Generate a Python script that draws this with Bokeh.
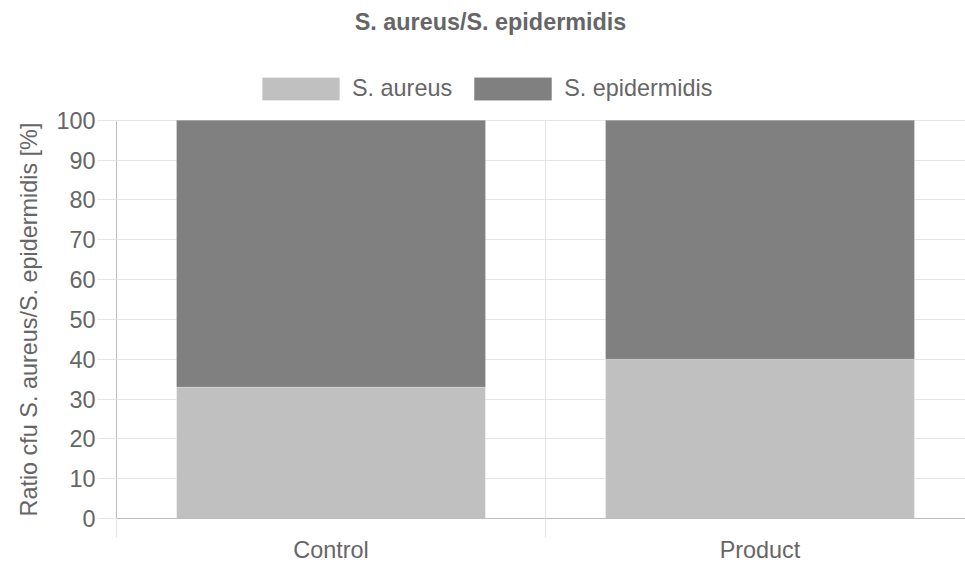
from bokeh.plotting import figure
from bokeh.models import FixedTicker, Legend, LegendItem, Label, Range1d, Title
from bokeh.embed import file_html
from bokeh.resources import INLINE

# ---- data ----
categories = ["Control", "Product"]
series_names = ["S. aureus", "S. epidermidis"]
aureus = [33, 40]
epidermidis = [67, 60]
y_ticks = [0, 10, 20, 30, 40, 50, 60, 70, 80, 90, 100]
title_text = "S. aureus/S. epidermidis"
y_label = "Ratio cfu S. aureus/S. epidermidis [%]"

FONT = "Liberation Sans"
FS = "23.4px"
TXT = "#666666"
GRID = "#e6e6e6"
AXIS = "#bdbdbd"

x_centers = [i + 0.5 for i in range(len(categories))]
x_bounds = [i for i in range(len(categories) + 1)]
stack_top = [a + e for a, e in zip(aureus, epidermidis)]
y_max = max(y_ticks)

W, H = 965, 565
FL, FB = 116, 519          # frame left / bottom in page pixels
px_per_cat = 429
px_per_unit = 399 / 100

p = figure(width=W, height=H, output_backend="svg", toolbar_location=None,
           x_range=Range1d(0, (W - FL) / px_per_cat),
           y_range=Range1d(0, FB / px_per_unit),
           min_border_left=FL, min_border_right=0, min_border_top=0,
           min_border_bottom=H - FB)
p.outline_line_color = None
p.background_fill_color = "white"
p.border_fill_color = "white"

r1 = p.vbar(x=x_centers, bottom=0, top=aureus, width=0.72,
            fill_color="#c0c0c0", line_color="white", line_alpha=0.35,
            line_width=1)
r2 = p.vbar(x=x_centers, bottom=aureus, top=stack_top, width=0.72,
            fill_color="#808080", line_color="white", line_alpha=0.15,
            line_width=1)

# grids
p.xgrid.visible = False
p.segment(x0=x_bounds[1:], y0=0, x1=x_bounds[1:], y1=y_max,
          line_color=GRID, line_width=1)
p.ygrid.ticker = FixedTicker(ticks=y_ticks)
p.ygrid.grid_line_color = GRID

# x axis
xa = p.xaxis[0]
xa.ticker = FixedTicker(ticks=x_centers, minor_ticks=x_bounds)
xa.major_label_overrides = {c: n for c, n in zip(x_centers, categories)}
xa.major_tick_out = 0
xa.major_tick_in = 0
xa.minor_tick_out = 19
xa.minor_tick_in = 0
xa.minor_tick_line_color = GRID
xa.axis_line_color = AXIS
xa.major_label_standoff = -1
xa.major_label_text_font = FONT
xa.major_label_text_font_size = FS
xa.major_label_text_color = TXT

# y axis
ya = p.yaxis[0]
ya.ticker = FixedTicker(ticks=y_ticks)
ya.bounds = (0, y_max)
ya.major_tick_out = 19
ya.major_tick_in = 0
ya.minor_tick_line_color = None
ya.major_tick_line_color = GRID
ya.axis_line_color = AXIS
ya.major_label_standoff = 2
ya.major_label_text_font = FONT
ya.major_label_text_font_size = FS
ya.major_label_text_color = TXT

# y axis title as a side-panel title, started at the bottom of the 0..100 axis
ytitle = Title(text=y_label, align="left", offset=2, standoff=20,
               vertical_align="top", text_font=FONT, text_font_size=FS,
               text_font_style="normal", text_color=TXT)
p.add_layout(ytitle, "left")

legend = Legend(items=[LegendItem(label=series_names[0], renderers=[r1]),
                       LegendItem(label=series_names[1], renderers=[r2])],
                orientation="horizontal", location=(136, 415),
                glyph_width=97, glyph_height=29, label_height=29,
                label_standoff=3, spacing=12, padding=0, margin=0,
                border_line_color=None, background_fill_alpha=0,
                label_text_font=FONT, label_text_font_size=FS,
                label_text_color=TXT)
p.add_layout(legend)

title = Label(x=374, y=497, x_units="screen", y_units="screen",
              text=title_text, text_align="center", text_baseline="middle",
              text_font=FONT, text_font_size=FS, text_font_style="bold",
              text_color=TXT)
p.add_layout(title)

open("out.html", "w").write(file_html(p, INLINE))
